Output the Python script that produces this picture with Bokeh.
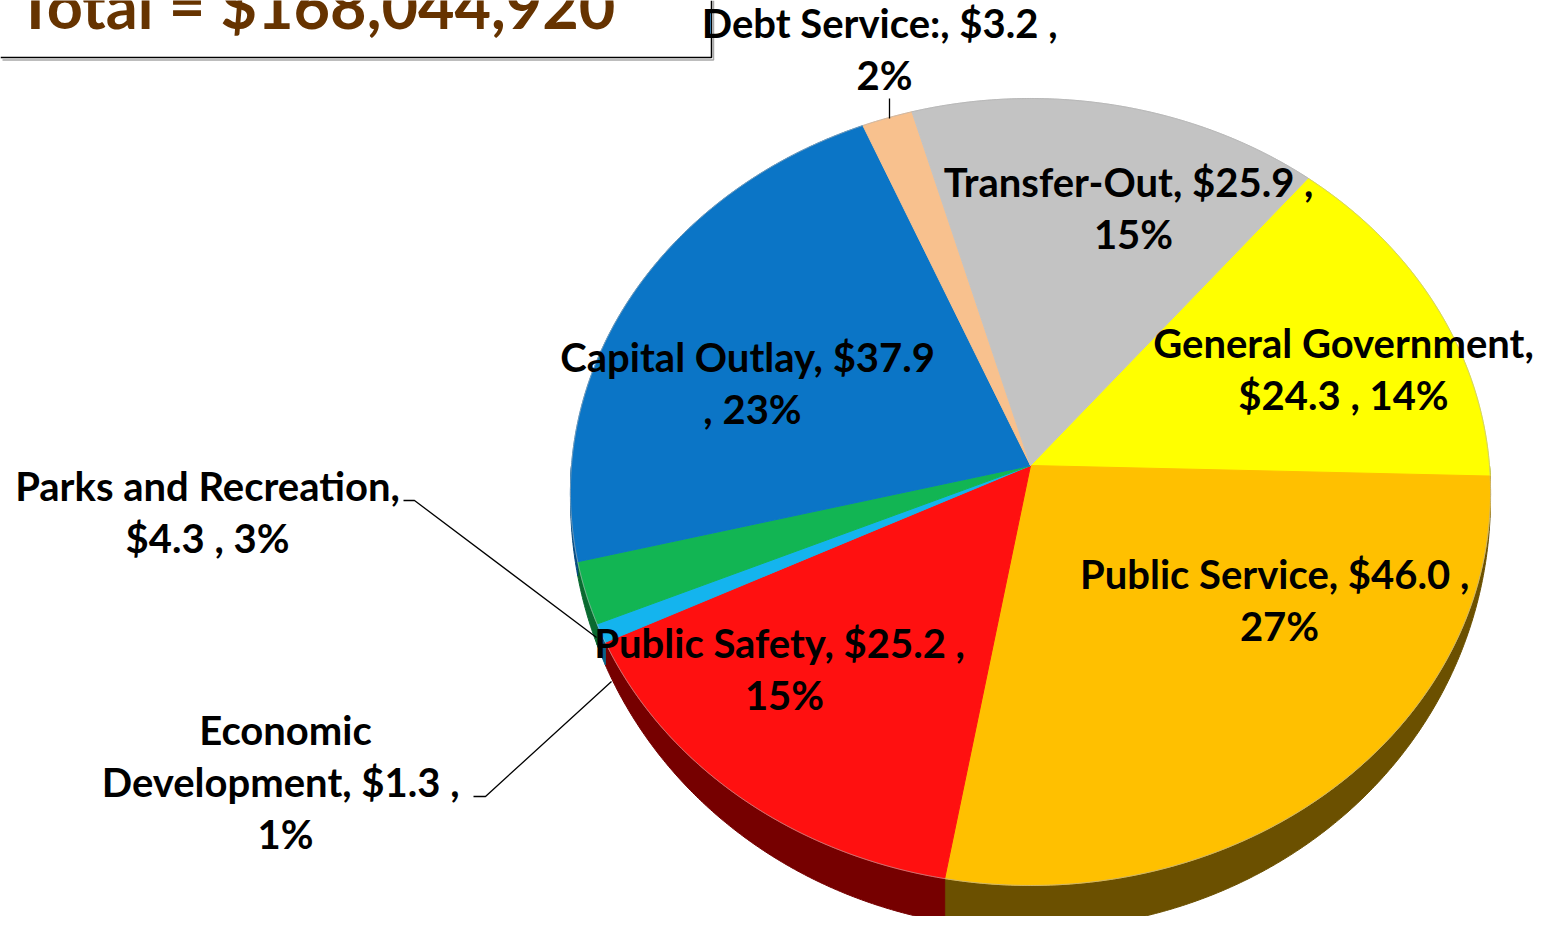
import numpy as np
from bokeh.plotting import figure
from bokeh.models import Range1d
from bokeh.embed import file_html
from bokeh.resources import INLINE
from bokeh.core.properties import value

# ---------------- data ----------------
categories = ["General Government", "Public Service", "Public Safety",
              "Economic Development", "Parks and Recreation", "Capital Outlay",
              "Debt Service:", "Transfer-Out"]
amounts = [24.3, 46.0, 25.2, 1.3, 4.3, 37.9, 3.2, 25.9]   # $ millions
total_text = "Total = $168,044,920"

# label lines as shown on the chart (line breaks follow the original)
label_lines = [
    ["General Government,", "$24.3 , 14%"],
    ["Public Service,  $46.0 ,", "27%"],
    ["Public Safety,  $25.2 ,", "15%"],
    ["Economic", "Development,  $1.3 ,", "1%"],
    ["Parks and Recreation,", "$4.3 , 3%"],
    ["Capital Outlay,  $37.9", ", 23%"],
    ["Debt Service:,  $3.2 ,", "2%"],
    ["Transfer-Out,  $25.9 ,", "15%"],
]

# ---------------- style / layout ----------------
top_colors = ["#FFFF00", "#FFC000", "#FF1010", "#14B4EE",
              "#12B553", "#0B75C6", "#F8C18E", "#C3C3C3"]
side_colors = ["#8A8A00", "#6B5000", "#760000", "#0A6488",
               "#0A6A30", "#064A80", "#8A6A4A", "#707070"]
label_pos = [(1343, 342), (1279, 573), (784, 642), (285, 729),
             (207, 485), (752, 356), (884, 22), (1133, 181)]
LINE_H = 52
FONT = value("Lato")

W, H = 1534, 916
p = figure(width=W, height=H, output_backend="svg", toolbar_location=None,
           x_range=Range1d(0, W), y_range=Range1d(H, 0),
           min_border=0, outline_line_color=None)
p.axis.visible = False
p.grid.visible = False
p.background_fill_color = "white"
p.border_fill_color = "white"

# perspective projection of the pie disc
CX, CY, A, B, K = 1030.0, 465.0, 459.0, 391.7, 0.0673
DEPTH = 44.0
START = 39.5


def proj(theta_deg):
    t = np.radians(theta_deg)
    u, v = np.sin(t), np.cos(t)
    den = 1 + K * v
    return CX + A * u / den, CY - B * v / den


def depth(theta_deg):
    c = -np.cos(np.radians(theta_deg))
    return DEPTH * np.clip(c, 0, 1) ** 0.8


total = float(sum(amounts))
frac = np.array(amounts) / total
edges = START + 360.0 * np.concatenate([[0.0], np.cumsum(frac)])

# side walls (front visible half)
VIS_LO, VIS_HI = 90.0, 270.0
sx, sy, sc = [], [], []
for i in range(len(amounts)):
    lo, hi = max(edges[i], VIS_LO), min(edges[i + 1], VIS_HI)
    if hi <= lo:
        continue
    th = np.linspace(lo, hi, max(4, int((hi - lo) * 3)))
    x, y = proj(th)
    d = depth(th)
    sx.append(list(x) + list(x[::-1]))
    sy.append(list(y) + list((y + d)[::-1]))
    sc.append(side_colors[i])
p.patches(sx, sy, fill_color=sc, line_color=sc, line_width=1)

# top faces
tx, ty = [], []
for i in range(len(amounts)):
    th = np.linspace(edges[i], edges[i + 1], max(4, int((edges[i + 1] - edges[i]) * 3)))
    x, y = proj(th)
    tx.append([CX] + list(x))
    ty.append([CY] + list(y))
p.patches(tx, ty, fill_color=top_colors, line_color=top_colors, line_width=1)

# faint outline of the disc
th = np.linspace(0, 360, 721)
ox, oy = proj(th)
p.line(ox, oy, line_color="#B0B0B0", line_width=1, line_alpha=0.6)

# title box
p.line([2, 713, 713], [59.5, 59.5, 0], line_color="#A8A8A8", line_width=1.5)
p.line([0, 711, 711], [57, 57, 0], line_color="black", line_width=1.5)
p.text(x=[16], y=[4], text=[total_text], text_font=FONT, text_font_style="bold",
       text_font_size="63px", text_color="#663300", text_align="left",
       text_baseline="middle")

# leader lines
p.line([403, 414, 596], [500, 500, 637], line_color="black", line_width=1.3)
p.line([473, 485, 611], [796, 796, 681], line_color="black", line_width=1.3)
p.line([889, 889], [98, 118], line_color="black", line_width=1.3)

# data labels
lx, ly, lt = [], [], []
for (cx_, cy_), lines in zip(label_pos, label_lines):
    for j, s in enumerate(lines):
        lx.append(cx_)
        ly.append(cy_ + j * LINE_H)
        lt.append(s)
p.text(x=lx, y=ly, text=lt, text_font=FONT, text_font_style="bold",
       text_font_size="40px", text_color="black", text_align="center",
       text_baseline="middle")

open("out.html", "w").write(file_html(p, INLINE))
